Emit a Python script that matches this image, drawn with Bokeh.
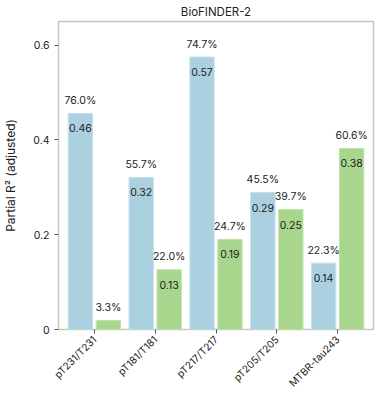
import math
from bokeh.plotting import figure
from bokeh.models import Range1d, FixedTicker, ColumnDataSource
from bokeh.core.properties import value
from bokeh.embed import file_html
from bokeh.resources import INLINE

categories = ["pT231/T231", "pT181/T181", "pT217/T217", "pT205/T205", "MTBR-tau243"]
blue_vals = [0.456, 0.321, 0.575, 0.289, 0.140]
green_vals = [0.019, 0.126, 0.190, 0.253, 0.382]
blue_labels = ["0.46", "0.32", "0.57", "0.29", "0.14"]
green_labels = ["", "0.13", "0.19", "0.25", "0.38"]
blue_pct = ["76.0%", "55.7%", "74.7%", "45.5%", "22.3%"]
green_pct = ["3.3%", "22.0%", "24.7%", "39.7%", "60.6%"]
y_ticks = [0, 0.2, 0.4, 0.6]
y_tick_labels = ["0", "0.2", "0.4", "0.6"]
title_text = "BioFINDER-2"
y_label = "Partial R\u00b2 (adjusted)"

FONT = "Inter"
BLUE = "#abd0e0"
GREEN = "#a8d68c"
TXT = "#222222"

X0, X1 = -0.59, 4.59
Y0, Y1 = 0.0, 0.65
OFF = 0.23
BW = 0.40

# frame position in page pixels
FL, FR, FT, FB = 52.0, 373.0, 21.0, 330.0
W, H = 380, 396

p = figure(width=W, height=H, output_backend="svg", toolbar_location=None,
           x_range=Range1d(X0, X1), y_range=Range1d(Y0, Y1),
           min_border_left=int(FL), min_border_right=int(W - FR),
           min_border_top=int(FT), min_border_bottom=int(H - FB))
p.xgrid.visible = False
p.ygrid.visible = False
p.outline_line_color = "#c8c8c8"
p.outline_line_width = 1.5
p.background_fill_color = "white"
p.border_fill_color = "white"

p.title.text = title_text
p.title.align = "center"
p.title.offset = -3
p.title.standoff = 5
p.title.text_font = FONT
p.title.text_font_size = "11.5px"
p.title.text_font_style = "normal"
p.title.text_color = TXT

idx = list(range(len(categories)))
bsrc = ColumnDataSource(dict(x=[i - OFF for i in idx], top=blue_vals, lab=blue_labels, pct=blue_pct))
gsrc = ColumnDataSource(dict(x=[i + OFF for i in idx], top=green_vals, lab=green_labels, pct=green_pct))

p.vbar(x="x", top="top", width=BW, source=bsrc, fill_color=BLUE, line_color="#c4dfe9", line_width=1)
p.vbar(x="x", top="top", width=BW, source=gsrc, fill_color=GREEN, line_color="#bfe2aa", line_width=1)

for src in (bsrc, gsrc):
    p.text(x="x", y="top", text="pct", source=src, y_offset=-13,
           text_align="center", text_baseline="middle",
           text_font=value(FONT), text_font_size="10.5px", text_color=TXT)
    p.text(x="x", y="top", text="lab", source=src, y_offset=15,
           text_align="center", text_baseline="middle",
           text_font=value(FONT), text_font_size="10.5px", text_color=TXT)

# axes
xa = p.xaxis[0]
xa.ticker = FixedTicker(ticks=idx)
xa.major_label_overrides = {i: c for i, c in zip(idx, categories)}
xa.major_label_orientation = math.pi / 4
xa.axis_line_color = None
xa.major_tick_out = 4
xa.major_tick_in = 0
xa.minor_tick_line_color = None
xa.major_tick_line_color = "#555555"
xa.major_label_text_font = FONT
xa.major_label_text_font_size = "10px"
xa.major_label_text_color = TXT
xa.major_label_standoff = 4

ya = p.yaxis[0]
ya.ticker = FixedTicker(ticks=y_ticks)
ya.major_label_overrides = {t: l for t, l in zip(y_ticks, y_tick_labels)}
ya.axis_line_color = None
ya.major_tick_out = 4
ya.major_tick_in = 0
ya.minor_tick_line_color = None
ya.major_tick_line_color = "#555555"
ya.major_label_text_font = FONT
ya.major_label_text_font_size = "10.5px"
ya.major_label_text_color = TXT
ya.major_label_standoff = 5
ya.axis_label = y_label
ya.axis_label_text_font = FONT
ya.axis_label_text_font_size = "12px"
ya.axis_label_text_font_style = "normal"
ya.axis_label_text_color = TXT
ya.axis_label_standoff = 12

open("out.html", "w").write(file_html(p, INLINE))
